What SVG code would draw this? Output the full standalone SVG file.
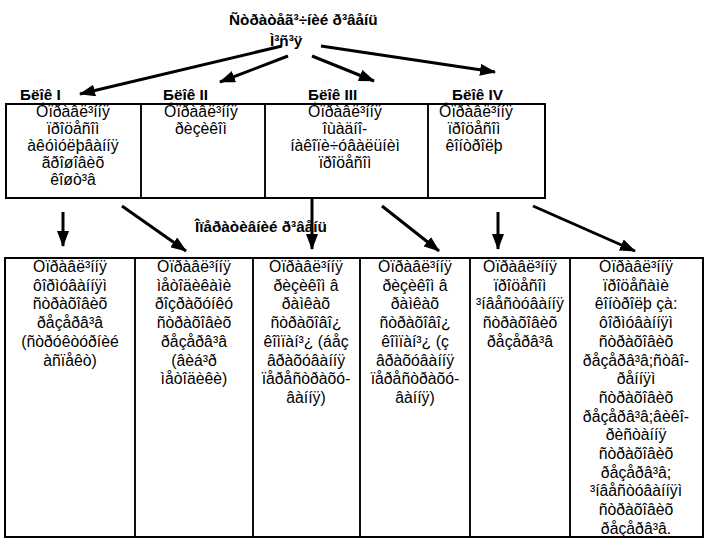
<svg xmlns="http://www.w3.org/2000/svg" width="705" height="543" viewBox="0 0 705 543">
<style>
.t{font-family:"Liberation Sans",Arial,sans-serif;font-size:15.8px;fill:#000;text-anchor:middle}
.b{font-family:"Liberation Sans",Arial,sans-serif;font-size:15.3px;font-weight:bold;fill:#000}
.box{fill:none;stroke:#000;stroke-width:1.5}
.out{fill:none;stroke:#000;stroke-width:2}
.arr{stroke:#000;stroke-width:3;fill:none;marker-end:url(#ah)}
</style>
<defs>
<marker id="ah" viewBox="0 0 16 12" refX="15" refY="6" markerWidth="16" markerHeight="12" markerUnits="userSpaceOnUse" orient="auto">
<path d="M0,0 L16,6 L0,12 z" fill="#000"/>
</marker>
</defs>
<rect width="705" height="543" fill="#fff"/>
<g id="title">
<text class="b" x="229" y="25">Ñòðàòåã³÷íèé ð³âåíü</text>
<text class="b" x="270" y="46">Ì³ñ³ÿ</text>
</g>
<g id="op-label"><text class="b" x="195" y="232">Îïåðàòèâíèé ð³âåíü</text></g>
<g id="labels">
<text class="b" x="20" y="100">Бëîê I</text>
<text class="b" x="163" y="100">Бëîê II</text>
<text class="b" x="308" y="100">Бëîê III</text>
<text class="b" x="452" y="100">Бëîê IV</text>
</g>
<g id="top-frame"><rect class="out" x="6" y="104" width="539" height="94"/></g>
<g id="blok1">
<rect class="box" x="6" y="104" width="135" height="94"/>
<text class="t" x="73" y="117">Óïðàâë³ííÿ<tspan x="73" dy="17">ïðîöåñîì</tspan><tspan x="73" dy="17">àêóìóëþâàííÿ</tspan><tspan x="73" dy="17">ãðîøîâèõ</tspan><tspan x="73" dy="17">êîøò³â</tspan></text>
</g>
<g id="blok2">
<rect class="box" x="141" y="104" width="124" height="94"/>
<text class="t" x="201" y="117">Óïðàâë³ííÿ<tspan x="201" dy="17">ðèçèêîì</tspan></text>
</g>
<g id="blok3">
<rect class="box" x="265" y="104" width="163" height="94"/>
<text class="t" x="345" y="117">Óïðàâë³ííÿ<tspan x="345" dy="17">îùàäíî-</tspan><tspan x="345" dy="17">íàêîïè÷óâàëüíèì</tspan><tspan x="345" dy="17">ïðîöåñîì</tspan></text>
</g>
<g id="blok4">
<rect class="box" x="428" y="104" width="117" height="94"/>
<text class="t" x="476" y="117">Óïðàâë³ííÿ<tspan x="474" dy="17">ïðîöåñîì</tspan><tspan x="474" dy="17">êîíòðîëþ</tspan></text>
</g>
<g id="bottom-frame"><rect class="out" x="5" y="258" width="698" height="279"/></g>
<g id="op1">
<rect class="box" x="5" y="258" width="130" height="279"/>
<text class="t" x="70" y="272">Óïðàâë³ííÿ<tspan x="70" dy="18.7">ôîðìóâàííÿì</tspan><tspan x="70" dy="18.7">ñòðàõîâèõ</tspan><tspan x="70" dy="18.7">ðåçåðâ³â</tspan><tspan x="70" dy="18.7">(ñòðóêòóðíèé</tspan><tspan x="70" dy="18.7">àñïåêò)</tspan></text>
</g>
<g id="op2">
<rect class="box" x="135" y="258" width="118" height="279"/>
<text class="t" x="194" y="272">Óïðàâë³ííÿ<tspan x="194" dy="18.7">ìåòîäèêàìè</tspan><tspan x="194" dy="18.7">ðîçðàõóíêó</tspan><tspan x="194" dy="18.7">ñòðàõîâèõ</tspan><tspan x="194" dy="18.7">ðåçåðâ³â</tspan><tspan x="194" dy="18.7">(âèá³ð</tspan><tspan x="194" dy="18.7">ìåòîäèêè)</tspan></text>
</g>
<g id="op3">
<rect class="box" x="253" y="258" width="107" height="279"/>
<text class="t" x="306" y="272">Óïðàâë³ííÿ<tspan x="306" dy="18.7">ðèçèêîì â</tspan><tspan x="306" dy="18.7">ðàìêàõ</tspan><tspan x="306" dy="18.7">ñòðàõîâî¿</tspan><tspan x="306" dy="18.7">êîìïàí³¿ (áåç</tspan><tspan x="306" dy="18.7">âðàõóâàííÿ</tspan><tspan x="306" dy="18.7">ïåðåñòðàõó-</tspan><tspan x="306" dy="18.7">âàííÿ)</tspan></text>
</g>
<g id="op4">
<rect class="box" x="360" y="258" width="110" height="279"/>
<text class="t" x="415" y="272">Óïðàâë³ííÿ<tspan x="415" dy="18.7">ðèçèêîì â</tspan><tspan x="415" dy="18.7">ðàìêàõ</tspan><tspan x="415" dy="18.7">ñòðàõîâî¿</tspan><tspan x="415" dy="18.7">êîìïàí³¿ (ç</tspan><tspan x="415" dy="18.7">âðàõóâàííÿ</tspan><tspan x="415" dy="18.7">ïåðåñòðàõó-</tspan><tspan x="415" dy="18.7">âàííÿ)</tspan></text>
</g>
<g id="op5">
<rect class="box" x="470" y="258" width="100" height="279"/>
<text class="t" x="520" y="272">Óïðàâë³ííÿ<tspan x="520" dy="18.7">ïðîöåñîì</tspan><tspan x="520" dy="18.7">³íâåñòóâàííÿ</tspan><tspan x="520" dy="18.7">ñòðàõîâèõ</tspan><tspan x="520" dy="18.7">ðåçåðâ³â</tspan></text>
</g>
<g id="op6">
<rect class="box" x="570" y="258" width="133" height="279"/>
<text class="t" x="636" y="272">Óïðàâë³ííÿ<tspan x="636" dy="18.7">ïðîöåñàìè</tspan><tspan x="636" dy="18.7">êîíòðîëþ çà:</tspan><tspan x="636" dy="18.7">ôîðìóâàííÿì</tspan><tspan x="636" dy="18.7">ñòðàõîâèõ</tspan><tspan x="636" dy="18.7">ðåçåðâ³â;ñòâî-</tspan><tspan x="636" dy="18.7">ðåííÿì</tspan><tspan x="636" dy="18.7">ñòðàõîâèõ</tspan><tspan x="636" dy="18.7">ðåçåðâ³â;âèêî-</tspan><tspan x="636" dy="18.7">ðèñòàííÿ</tspan><tspan x="636" dy="18.7">ñòðàõîâèõ</tspan><tspan x="636" dy="18.7">ðåçåðâ³â;</tspan><tspan x="636" dy="18.7">³íâåñòóâàííÿì</tspan><tspan x="636" dy="18.7">ñòðàõîâèõ</tspan><tspan x="636" dy="18.7">ðåçåðâ³â.</tspan></text>
</g>
<g id="connectors">
<line class="arr" x1="282" y1="46" x2="80" y2="94"/>
<line class="arr" x1="288" y1="56" x2="220" y2="82"/>
<line class="arr" x1="312" y1="56" x2="374" y2="81"/>
<line class="arr" x1="321" y1="46" x2="495" y2="72"/>
<line class="arr" x1="63" y1="212" x2="63" y2="246"/>
<line class="arr" x1="122" y1="206" x2="186" y2="251"/>
<line class="arr" x1="312" y1="198" x2="312" y2="249"/>
<line class="arr" x1="382" y1="206" x2="439" y2="251"/>
<line class="arr" x1="498" y1="212" x2="498" y2="249"/>
<line class="arr" x1="533" y1="206" x2="635" y2="251"/>
</g>
</svg>
